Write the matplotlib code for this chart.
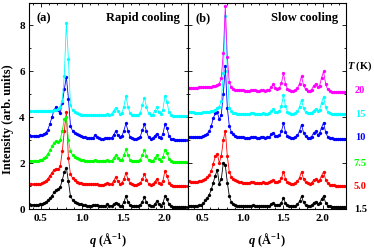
import matplotlib
matplotlib.use("Agg")
import matplotlib.pyplot as plt
import numpy as np
from matplotlib.ticker import MultipleLocator

# q grids (A^-1): rapid-cooling scans and slow-cooling scans
q_rapid = np.round(0.36 + 0.025 * np.arange(78), 3)
q_slow = np.round(0.335 + 0.025 * np.arange(79), 3)

# ---- rapid cooling, stacked intensities (arb. units) ----
rapid_1p5 = [0.20, 0.19, 0.19, 0.18, 0.19, 0.20, 0.22, 0.25, 0.30, 0.38, 0.47, 0.58, 0.72, 0.82, 0.86,
             0.95, 1.25, 1.60, 1.80, 1.20, 0.55, 0.40, 0.32, 0.27, 0.23, 0.20, 0.18,
             0.16, 0.15, 0.15, 0.15, 0.16, 0.18, 0.16, 0.14, 0.14, 0.14, 0.15,
             0.20, 0.15, 0.14, 0.20, 0.28, 0.20, 0.15, 0.15, 0.30, 0.56, 0.32, 0.18, 0.14, 0.12, 0.12,
             0.13, 0.18, 0.32, 0.50, 0.30, 0.17, 0.13, 0.13, 0.20, 0.34, 0.20, 0.14, 0.25, 0.56, 0.42,
             0.20, 0.12, 0.10, 0.09, 0.09, 0.08, 0.08, 0.08, 0.08, 0.08]
rapid_5p0 = [1.08, 1.08, 1.07, 1.07, 1.08, 1.09, 1.12, 1.16, 1.22, 1.32, 1.45, 1.58, 1.70, 1.75, 1.72,
             1.85, 2.50, 3.40, 4.20, 2.20, 1.50, 1.35, 1.25, 1.18, 1.14, 1.12, 1.10,
             1.09, 1.08, 1.07, 1.07, 1.08, 1.10, 1.08, 1.06, 1.06, 1.06, 1.07,
             1.12, 1.08, 1.08, 1.22, 1.38, 1.22, 1.10, 1.12, 1.30, 1.56, 1.30, 1.12, 1.07, 1.05, 1.05,
             1.07, 1.12, 1.30, 1.52, 1.28, 1.10, 1.06, 1.07, 1.17, 1.30, 1.14, 1.08, 1.22, 1.64, 1.45,
             1.15, 1.05, 1.02, 1.01, 1.00, 1.00, 1.00, 0.99, 0.99, 0.99]
rapid_7p5 = [2.10, 2.10, 2.09, 2.09, 2.10, 2.12, 2.15, 2.20, 2.28, 2.40, 2.55, 2.72, 2.88, 2.95, 2.92,
             3.00, 3.40, 3.90, 4.00, 3.00, 2.50, 2.35, 2.27, 2.20, 2.16, 2.13, 2.11,
             2.10, 2.09, 2.08, 2.08, 2.09, 2.11, 2.09, 2.08, 2.08, 2.08, 2.09,
             2.12, 2.09, 2.09, 2.20, 2.33, 2.20, 2.12, 2.14, 2.33, 2.60, 2.35, 2.15, 2.09, 2.07, 2.07,
             2.09, 2.15, 2.35, 2.55, 2.32, 2.13, 2.08, 2.09, 2.20, 2.33, 2.18, 2.10, 2.25, 2.58, 2.45,
             2.17, 2.08, 2.06, 2.05, 2.05, 2.04, 2.04, 2.04, 2.04, 2.04]
rapid_10 = [3.20, 3.19, 3.18, 3.18, 3.19, 3.20, 3.22, 3.26, 3.32, 3.45, 3.70, 4.00, 4.30, 4.45, 4.30,
            4.15, 4.60, 5.20, 5.75, 4.80, 3.60, 3.40, 3.30, 3.24, 3.20, 3.17, 3.15,
            3.12, 3.10, 3.08, 3.07, 3.10, 3.20, 3.12, 3.07, 3.06, 3.06, 3.07,
            3.10, 3.08, 3.09, 3.22, 3.38, 3.22, 3.12, 3.16, 3.40, 3.72, 3.40, 3.15, 3.07, 3.05, 3.05,
            3.07, 3.15, 3.42, 3.68, 3.38, 3.12, 3.06, 3.07, 3.17, 3.28, 3.14, 3.08, 3.25, 3.68, 3.50,
            3.16, 3.05, 3.02, 3.01, 3.00, 3.00, 3.00, 3.00, 2.99, 2.99]
rapid_15 = [4.26, 4.26, 4.25, 4.25, 4.25, 4.25, 4.24, 4.24, 4.24, 4.25, 4.26, 4.28, 4.30, 4.32, 4.35,
            4.45, 4.70, 5.80, 8.10, 6.50, 4.50, 4.30, 4.20, 4.16, 4.13, 4.10, 4.09,
            4.09, 4.08, 4.07, 4.07, 4.08, 4.10, 4.08, 4.07, 4.07, 4.07, 4.08,
            4.12, 4.10, 4.12, 4.28, 4.40, 4.25, 4.14, 4.18, 4.45, 4.90, 4.45, 4.18, 4.09, 4.07, 4.07,
            4.09, 4.18, 4.50, 4.84, 4.45, 4.15, 4.09, 4.10, 4.25, 4.42, 4.22, 4.12, 4.30, 4.93, 4.65,
            4.20, 4.08, 4.06, 4.05, 4.05, 4.05, 4.04, 4.04, 4.04, 4.04]

# ---- slow cooling ----
slow_1p5 = [0.13, 0.12, 0.12, 0.13, 0.14, 0.16, 0.19, 0.24, 0.38, 0.48, 0.62, 0.85, 1.15, 1.45, 1.70,
            1.10, 1.30, 2.00, 1.90, 1.15, 0.56, 0.30, 0.20, 0.17, 0.15, 0.14, 0.13,
            0.13, 0.13, 0.13, 0.13, 0.15, 0.16, 0.13, 0.12, 0.12, 0.13, 0.15, 0.13,
            0.12, 0.14, 0.20, 0.24, 0.17, 0.16, 0.19, 0.28, 0.48, 0.26, 0.16, 0.13, 0.12, 0.12,
            0.15, 0.20, 0.33, 0.55, 0.29, 0.16, 0.12, 0.13, 0.16, 0.26, 0.32, 0.20, 0.25, 0.43, 0.56,
            0.28, 0.15, 0.11, 0.10, 0.10, 0.09, 0.09, 0.09, 0.08, 0.08, 0.08]
slow_5p0 = [1.20, 1.19, 1.18, 1.18, 1.19, 1.20, 1.22, 1.26, 1.32, 1.38, 1.48, 1.65, 1.95, 2.30, 2.40,
            2.00, 2.30, 3.00, 3.40, 2.30, 1.60, 1.40, 1.30, 1.25, 1.20, 1.18, 1.16,
            1.15, 1.14, 1.14, 1.13, 1.16, 1.17, 1.14, 1.13, 1.13, 1.14, 1.16, 1.13,
            1.13, 1.16, 1.22, 1.27, 1.18, 1.16, 1.20, 1.33, 1.62, 1.31, 1.16, 1.12, 1.10, 1.10,
            1.14, 1.20, 1.36, 1.62, 1.31, 1.16, 1.11, 1.10, 1.14, 1.25, 1.30, 1.20, 1.24, 1.45, 1.61,
            1.28, 1.12, 1.06, 1.04, 1.03, 1.02, 1.02, 1.01, 1.01, 1.00, 1.00]
slow_10 = [3.12, 3.12, 3.11, 3.11, 3.12, 3.13, 3.15, 3.18, 3.22, 3.28, 3.38, 3.60, 3.95, 4.15, 4.20,
           3.90, 4.10, 5.00, 6.20, 4.40, 3.60, 3.35, 3.25, 3.18, 3.15, 3.13, 3.12,
           3.11, 3.10, 3.10, 3.10, 3.12, 3.13, 3.11, 3.10, 3.10, 3.11, 3.13, 3.10,
           3.11, 3.14, 3.24, 3.32, 3.19, 3.16, 3.20, 3.37, 3.73, 3.35, 3.17, 3.11, 3.09, 3.09,
           3.14, 3.20, 3.38, 3.67, 3.32, 3.16, 3.10, 3.10, 3.15, 3.29, 3.38, 3.23, 3.29, 3.54, 3.75,
           3.34, 3.15, 3.09, 3.07, 3.06, 3.06, 3.05, 3.05, 3.05, 3.05, 3.05]
slow_15 = [4.20, 4.20, 4.20, 4.19, 4.19, 4.19, 4.19, 4.20, 4.20, 4.21, 4.22, 4.24, 4.27, 4.32, 4.38,
           4.45, 4.70, 5.90, 8.40, 6.00, 4.40, 4.25, 4.18, 4.15, 4.14, 4.13, 4.12,
           4.13, 4.13, 4.13, 4.13, 4.15, 4.16, 4.14, 4.13, 4.13, 4.14, 4.16, 4.14,
           4.14, 4.18, 4.27, 4.34, 4.22, 4.20, 4.26, 4.48, 4.95, 4.46, 4.23, 4.16, 4.14, 4.14,
           4.18, 4.25, 4.45, 4.75, 4.38, 4.20, 4.15, 4.15, 4.18, 4.28, 4.34, 4.24, 4.30, 4.62, 4.88,
           4.43, 4.22, 4.15, 4.13, 4.13, 4.12, 4.12, 4.12, 4.12, 4.12, 4.12]
slow_20 = [5.27, 5.27, 5.27, 5.27, 5.27, 5.28, 5.28, 5.28, 5.29, 5.30, 5.31, 5.32, 5.34, 5.36, 5.40,
           5.45, 5.70, 6.80, 8.80, 6.60, 5.50, 5.28, 5.22, 5.19, 5.17, 5.16, 5.15,
           5.15, 5.14, 5.14, 5.14, 5.16, 5.17, 5.15, 5.14, 5.14, 5.15, 5.17, 5.14,
           5.15, 5.19, 5.32, 5.42, 5.25, 5.20, 5.26, 5.47, 5.90, 5.44, 5.22, 5.15, 5.13, 5.13,
           5.18, 5.25, 5.45, 5.77, 5.38, 5.20, 5.14, 5.13, 5.19, 5.34, 5.44, 5.28, 5.35, 5.70, 5.98,
           5.45, 5.20, 5.12, 5.10, 5.09, 5.09, 5.08, 5.08, 5.08, 5.08, 5.08]

temps = ['1.5', '5.0', '7.5', '10', '15', '20']
temp_colors = ['black', '#ff0000', '#00ff00', '#0000ff', '#00ffff', '#ff00ff']
temp_label_y = [0.02, 1.02, 2.0, 3.15, 4.15, 5.2]

rapid_curves = [rapid_1p5, rapid_5p0, rapid_7p5, rapid_10, rapid_15]
rapid_colors = temp_colors[:5]
slow_curves = [slow_1p5, slow_5p0, slow_10, slow_15, slow_20]
slow_colors = ['black', '#ff0000', '#0000ff', '#00ffff', '#ff00ff']

serif = 'Liberation Serif'


def style_axis(ax, xlim):
    ax.set_xlim(*xlim)
    ax.set_ylim(0, 8.95)
    ax.xaxis.set_major_locator(MultipleLocator(0.5))
    ax.xaxis.set_minor_locator(MultipleLocator(0.1))
    ax.yaxis.set_major_locator(MultipleLocator(2))
    ax.yaxis.set_minor_locator(MultipleLocator(1))
    ax.tick_params(which='both', direction='in', top=True, right=True, width=0.6)
    ax.tick_params(which='major', length=3, labelsize=8, pad=3)
    ax.tick_params(which='minor', length=1.5)
    for s in ax.spines.values():
        s.set_linewidth(0.8)
    for lab in ax.get_xticklabels() + ax.get_yticklabels():
        lab.set_family(serif)
        lab.set_fontweight('bold')
    ax.set_xlabel(r'$\mathbfit{q}$ (Å$^{\mathbf{-1}}$)', family=serif,
                  fontweight='bold', fontsize=9, labelpad=6)


def main():
    plt.rcParams['mathtext.fontset'] = 'custom'
    plt.rcParams['mathtext.it'] = 'Liberation Serif:italic:bold'
    plt.rcParams['mathtext.bfit'] = 'Liberation Serif:italic:bold'
    plt.rcParams['mathtext.bf'] = 'Liberation Serif:bold'
    plt.rcParams['mathtext.rm'] = 'Liberation Serif:bold'

    fig = plt.figure(figsize=(3.74, 2.53), dpi=100)
    ax1 = fig.add_axes([0.0775, 0.170, 0.425, 0.814])
    ax2 = fig.add_axes([0.5027, 0.170, 0.4225, 0.814])

    for y, c in zip(rapid_curves, rapid_colors):
        ax1.plot(q_rapid, y, '-o', color=c, lw=0.6, ms=2.4, mew=0)
    for y, c in zip(slow_curves, slow_colors):
        ax2.plot(q_slow, y, '-o', color=c, lw=0.6, ms=2.4, mew=0)

    style_axis(ax1, (0.355, 2.29))
    style_axis(ax2, (0.32, 2.29))
    ax2.tick_params(labelleft=False)

    ax1.set_ylabel('Intensity (arb. units)', family=serif, fontweight='bold',
                   fontsize=9)
    ax1.yaxis.set_label_coords(-0.095, 0.44)

    ax1.text(0.05, 0.93, '(a)', transform=ax1.transAxes, family=serif,
             fontweight='bold', fontsize=9, va='center')
    ax1.text(0.95, 0.93, 'Rapid cooling', transform=ax1.transAxes, family=serif,
             fontweight='bold', fontsize=9, va='center', ha='right')
    ax2.text(0.05, 0.93, '(b)', transform=ax2.transAxes, family=serif,
             fontweight='bold', fontsize=9, va='center')
    ax2.text(0.95, 0.93, 'Slow cooling', transform=ax2.transAxes, family=serif,
             fontweight='bold', fontsize=9, va='center', ha='right')

    # temperature labels at right
    ax2.text(1.088, 6.24, r'$\mathbfit{T}$ (K)', transform=ax2.get_yaxis_transform(),
             family=serif, fontweight='bold', fontsize=7.5, va='center', ha='center')
    for t, c, yv in zip(temps, temp_colors, temp_label_y):
        ax2.text(1.09, yv, t, transform=ax2.get_yaxis_transform(), color=c,
                 family=serif, fontweight='bold', fontsize=7.5, va='center', ha='center')

    fig.savefig('out.png', dpi=100)


if __name__ == '__main__':
    main()
